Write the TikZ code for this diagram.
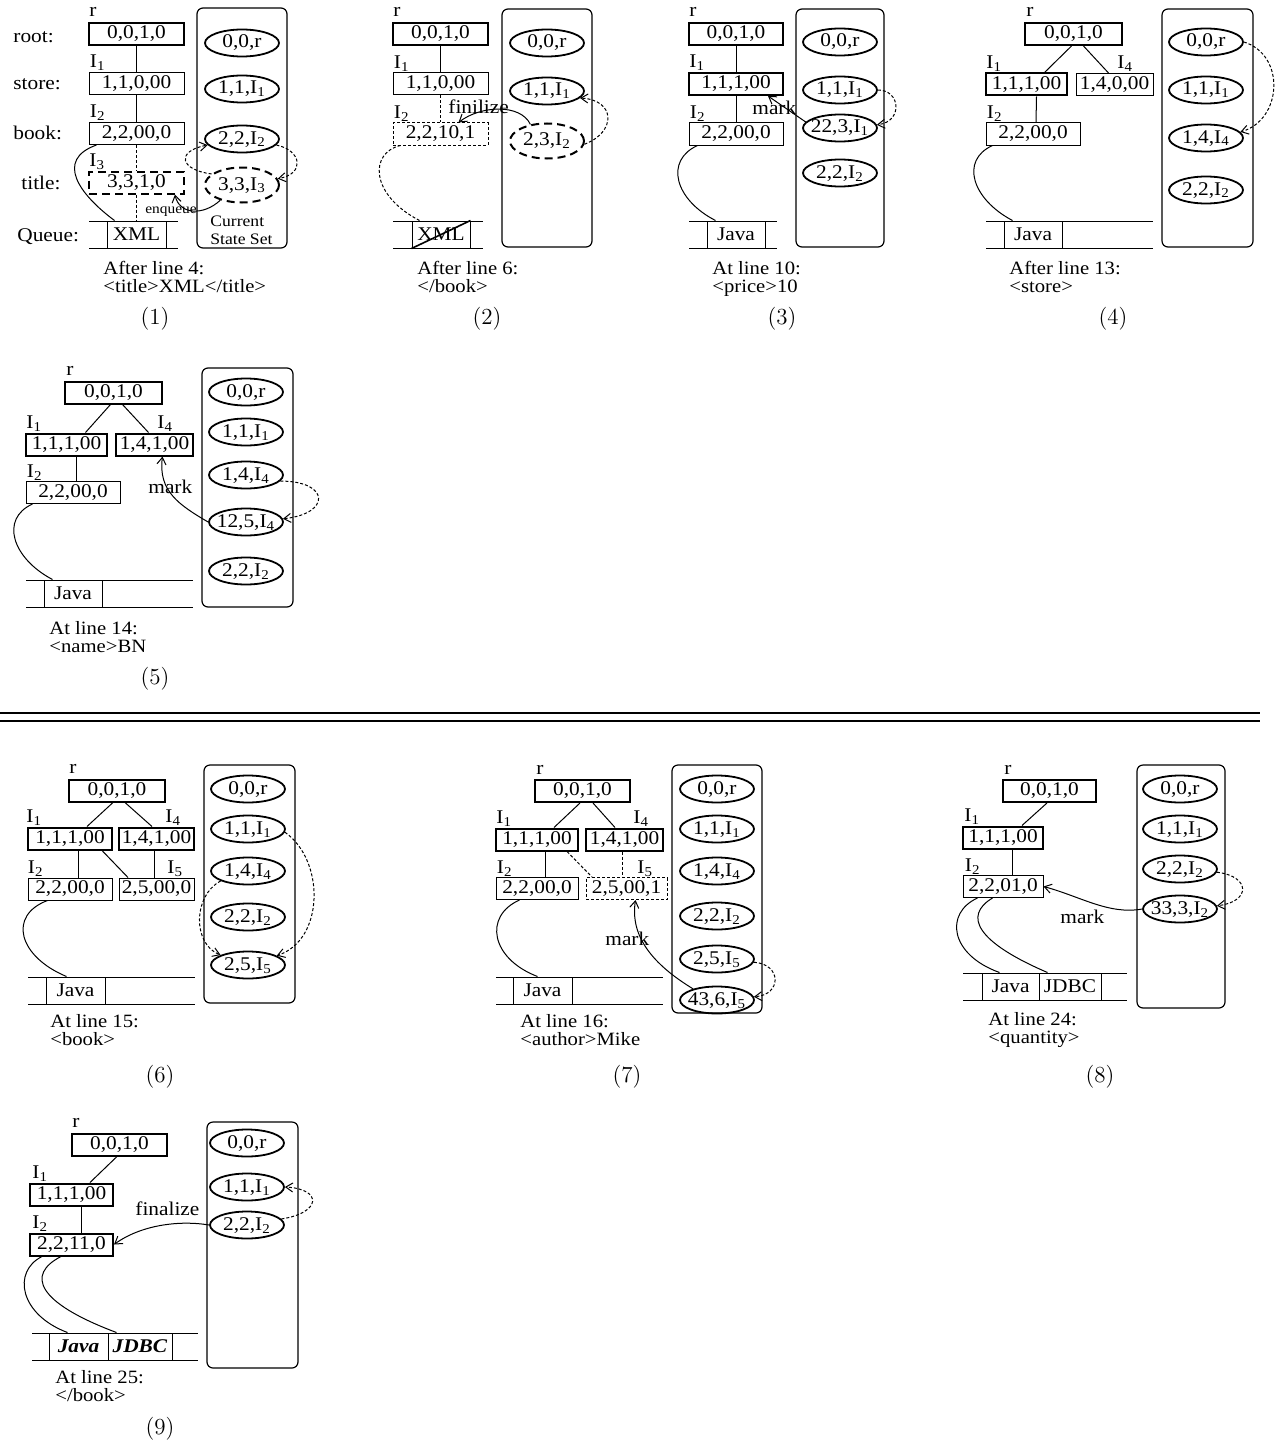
\documentclass[tikz,border=0pt]{standalone}
\usepackage{fontspec}
\newfontfamily\tnr{Liberation Serif}[FakeStretch=1.1]
\usetikzlibrary{arrows.meta, shapes.geometric}
\tikzset{
  tbox/.style={draw, line width=0.5pt, minimum height=11pt, inner sep=0pt},
  hbox/.style={tbox, line width=1pt},
  dbox/.style={tbox, dash pattern=on 1.5pt off 1pt},
  hdbox/.style={tbox, line width=1pt, dash pattern=on 4pt off 2.5pt},
  st/.style={draw, ellipse, line width=0.9pt, minimum width=37pt, minimum height=13.5pt, inner sep=0pt,
    text height=6.5pt, text depth=1.5pt,
    execute at begin node={\hbox to 0pt\bgroup\hss}, execute at end node={\hss\egroup}},
  dst/.style={st, minimum height=17.5pt, line width=1pt, dash pattern=on 4pt off 2.5pt},
  setbox/.style={draw, rounded corners=3pt, line width=0.6pt, inner sep=0pt},
  cell/.style={draw, line width=0.5pt, minimum height=13.5pt, inner sep=0pt},
  lbl/.style={anchor=base west},
  capt/.style={lbl, text height=6.8pt, text depth=0pt, font=\tnr\fontsize{9.4}{8}\selectfont},
  link/.style={line width=0.5pt},
  dlink/.style={link, dash pattern=on 1.5pt off 1pt},
  mv/.style={link, -{Straight Barb[length=3.5pt,width=4.5pt]}},
  dmv/.style={mv, dash pattern=on 1.5pt off 1pt},
  qline/.style={line width=0.5pt},
  small/.style={font=\tnr\fontsize{7}{8}\selectfont},
  num/.style={font=\fontsize{11.5}{13}\selectfont}
}
\begin{document}
\begin{tikzpicture}[x=0.5pt, y=-0.5pt, every node/.style={inner sep=0pt, font=\tnr\fontsize{9.7}{8}\selectfont}]
\useasboundingbox (0,0) rectangle (1280,1445);

\node[lbl] (troot) at (13,43) {root:};
\node[lbl] (tstore) at (13,90) {store:};
\node[lbl] (tbook) at (13,140) {book:};
\node[lbl] (ttitle) at (21,189) {title:};
\node[lbl] (tqueue) at (17,241) {Queue:};
\node[hbox, minimum width=47.5pt] (r1) at (136.5,34) {0,0,1,0};
\node[tbox, minimum width=47.5pt] (a1) at (136.5,83.5) {1,1,0,00};
\node[tbox, minimum width=47.5pt] (b1) at (136.5,133.5) {2,2,00,0};
\node[hdbox, minimum width=47.5pt] (c1) at (136.5,182.5) {3,3,1,0};
\node[lbl] (lr1) at ([shift={(1,-5)}]r1.north west) {r};
\node[lbl] (la1) at ([shift={(1,-4)}]a1.north west) {I\textsubscript{1}};
\node[lbl] (lb1) at ([shift={(1,-4)}]b1.north west) {I\textsubscript{2}};
\node[lbl] (lc1) at ([shift={(1,-4)}]c1.north west) {I\textsubscript{3}};
\draw[qline] (89,221) -- (178,221) (89,248) -- (178,248);
\node[cell, minimum width=29.5pt] (q1) at (136.5,234.5) {XML};
\draw[link] (r1) -- (a1);
\draw[link] (a1) -- (b1);
\draw[dlink] (b1) -- (c1);
\draw[dlink] (c1) -- (q1);
\draw[link] ([shift={(8,0)}]b1.south west) .. controls +(-42,15) and +(-35,-26) .. ([shift={(8,0)}]q1.north west);
\node[setbox, minimum width=45pt, minimum height=120pt] (set1) at (242,128) {};
\node[st] (s10) at (242,43) {0,0,r};
\node[st] (s11) at (242,89) {1,1,I\textsubscript{1}};
\node[st] (s12) at (242,139) {2,2,I\textsubscript{2}};
\node[dst] (s13) at (242,185) {3,3,I\textsubscript{3}};
\draw[dmv] (s12.-10) .. controls +(25,5) and +(28,-5) .. (s13.10);
\draw[dmv] (s13.160) .. controls +(-32,-4) and +(-32,6) .. (s12.190);
\draw[mv] (s13.215) .. controls +(-17,16) and +(4,20) .. ([shift={(-10,0)}]c1.south east);
\node[small] (tenq1) at (171,212) {enqueue};
\node[anchor=north west, align=left, font=\tnr\fontsize{8}{9}\selectfont] (tcss1) at (210,216) {Current\\State Set};
\node[capt] (n1) at (103,274) {After line 4:};
\node[capt] (m1) at (103,292) {<title>XML</title>};
\node[num] (k1) at (155,319) {(1)};

\node[hbox, minimum width=47.5pt] (r2) at (440.5,34) {0,0,1,0};
\node[tbox, minimum width=47.5pt] (a2) at (440.5,84) {1,1,0,00};
\node[dbox, minimum width=47.5pt] (b2) at (440.5,134) {2,2,10,1};
\node[lbl] (lr2) at ([shift={(1,-5)}]r2.north west) {r};
\node[lbl] (la2) at ([shift={(1,-4)}]a2.north west) {I\textsubscript{1}};
\node[lbl] (lb2) at ([shift={(1,-4)}]b2.north west) {I\textsubscript{2}};
\draw[qline] (393,221) -- (483,221) (393,248) -- (483,248);
\node[cell, minimum width=29pt] (q2) at (441,234.5) {XML};
\draw[line width=0.8pt] (q2.south west) -- (q2.north east);
\draw[link] (r2) -- (a2);
\draw[dlink] (a2) -- (b2);
\draw[dlink] ([shift={(8,0)}]b2.south west) .. controls +(-31,7) and +(-50,-26) .. ([shift={(8,0)}]q2.north west);
\node[setbox, minimum width=45pt, minimum height=119pt] (set2) at (547,128) {};
\node[st] (s20) at (547,43) {0,0,r};
\node[st] (s21) at (547,91) {1,1,I\textsubscript{1}};
\node[dst] (s22) at (547,141) {2,3,I\textsubscript{2}};
\draw[mv] (s22.135) .. controls +(-10,-21) and +(22,-17) .. ([shift={(18,0)}]b2.north);
\node[lbl] (tfin2) at (448,113) {finilize};
\draw[dmv] (s22.-5) .. controls +(32,-12) and +(36,2) .. (s21.-12);
\node[capt] (n2) at (417,274) {After line 6:};
\node[capt] (m2) at (417,292) {</book>};
\node[num] (k2) at (487,319) {(2)};

\node[hbox, minimum width=47pt] (r3) at (736,34) {0,0,1,0};
\node[hbox, minimum width=47pt] (a3) at (736,84) {1,1,1,00};
\node[tbox, minimum width=47pt] (b3) at (736,134) {2,2,00,0};
\node[lbl] (lr3) at ([shift={(1,-5)}]r3.north west) {r};
\node[lbl] (la3) at ([shift={(1,-4)}]a3.north west) {I\textsubscript{1}};
\node[lbl] (lb3) at ([shift={(1,-4)}]b3.north west) {I\textsubscript{2}};
\draw[qline] (689,221) -- (777,221) (689,248) -- (777,248);
\node[cell, minimum width=29pt] (q3) at (736,234.5) {Java};
\draw[link] (r3) -- (a3);
\draw[link] (a3) -- (b3);
\draw[link] ([shift={(9,0)}]b3.south west) .. controls +(-33,15) and +(-41,-21) .. ([shift={(9,0)}]q3.north west);
\node[setbox, minimum width=44pt, minimum height=119pt] (set3) at (840,128) {};
\node[st] (s30) at (840,42) {0,0,r};
\node[st] (s31) at (840,90) {1,1,I\textsubscript{1}};
\node[st] (s32) at (840,128) {22,3,I\textsubscript{1}};
\node[st] (s33) at (840,173) {2,2,I\textsubscript{2}};
\draw[mv] (s32.170) -- ([shift={(-16,0)}]a3.south east);
\node[lbl] (tmk3) at (752,115) {mark};
\draw[dmv] (s31.0) .. controls +(23,0) and +(26,-3) .. (s32.5);
\node[capt] (n3) at (712,274) {At line 10:};
\node[capt] (m3) at (712,292) {<price>10};
\node[num] (k3) at (782,319) {(3)};

\node[hbox, minimum width=48.5pt] (r4) at (1073.5,34) {0,0,1,0};
\node[hbox, minimum width=40.5pt] (a4) at (1026.5,84.5) {1,1,1,00};
\node[tbox, minimum width=38.5pt] (d4) at (1114.5,84.5) {1,4,0,00};
\node[tbox, minimum width=47pt] (b4) at (1033,134) {2,2,00,0};
\node[lbl] (lr4) at ([shift={(2,-5)}]r4.north west) {r};
\node[lbl] (la4) at ([shift={(1,-4)}]a4.north west) {I\textsubscript{1}};
\node[lbl] (ld4) at ([shift={(2.5,-4)}]d4.north) {I\textsubscript{4}};
\node[lbl] (lb4) at ([shift={(1,-4)}]b4.north west) {I\textsubscript{2}};
\draw[link] ([shift={(-2,0)}]r4.south) -- ([shift={(18,0)}]a4.north);
\draw[link] ([shift={(10,0)}]r4.south) -- ([shift={(-6,0)}]d4.north);
\draw[link] ([shift={(10,0)}]a4.south) -- ([shift={(3,0)}]b4.north);
\draw[qline] (986,221) -- (1153,221) (986,248) -- (1153,248);
\node[cell, minimum width=29pt] (q4) at (1033,234.5) {Java};
\draw[link] ([shift={(7,0)}]b4.south west) .. controls +(-33,15) and +(-40,-21) .. ([shift={(9,0)}]q4.north west);
\node[setbox, minimum width=45.5pt, minimum height=119pt] (set4) at (1207.5,128) {};
\node[st] (s40) at (1206,42) {0,0,r};
\node[st] (s41) at (1206,90) {1,1,I\textsubscript{1}};
\node[st] (s42) at (1206,138) {1,4,I\textsubscript{4}};
\node[st] (s43) at (1206,190) {2,2,I\textsubscript{2}};
\draw[dmv] (s40.0) .. controls +(42,13) and +(42,-12) .. (s42.10);
\node[capt] (n4) at (1009,274) {After line 13:};
\node[capt] (m4) at (1009,292) {<store>};
\node[num] (k4) at (1113,319) {(4)};

\node[hbox, minimum width=48.5pt] (r5) at (113.5,392.5) {0,0,1,0};
\node[hbox, minimum width=40.5pt] (a5) at (66.5,444.5) {1,1,1,00};
\node[hbox, minimum width=38.5pt] (d5) at (154.5,444.5) {1,4,1,00};
\node[tbox, minimum width=47pt] (b5) at (73,492.5) {2,2,00,0};
\node[lbl] (lr5) at ([shift={(2,-5)}]r5.north west) {r};
\node[lbl] (la5) at ([shift={(1,-4)}]a5.north west) {I\textsubscript{1}};
\node[lbl] (ld5) at ([shift={(2.5,-4)}]d5.north) {I\textsubscript{4}};
\node[lbl] (lb5) at ([shift={(1,-4)}]b5.north west) {I\textsubscript{2}};
\draw[link] ([shift={(-3,0)}]r5.south) -- ([shift={(19,0)}]a5.north);
\draw[link] ([shift={(9,0)}]r5.south) -- ([shift={(-6,0)}]d5.north);
\draw[link] ([shift={(9.5,0)}]a5.south) -- ([shift={(3,0)}]b5.north);
\draw[qline] (26,580) -- (193,580) (26,607) -- (193,607);
\node[cell, minimum width=29pt] (q5) at (73,593.5) {Java};
\draw[link] ([shift={(7,0)}]b5.south west) .. controls +(-33,15) and +(-40,-21) .. ([shift={(9,0)}]q5.north west);
\node[setbox, minimum width=45.5pt, minimum height=119.5pt] (set5) at (247.5,487.5) {};
\node[st] (s50) at (246,392) {0,0,r};
\node[st] (s51) at (246,432) {1,1,I\textsubscript{1}};
\node[st] (s52) at (246,475) {1,4,I\textsubscript{4}};
\node[st] (s53) at (246,522) {12,5,I\textsubscript{4}};
\node[st] (s54) at (246,571) {2,2,I\textsubscript{2}};
\draw[mv] (s53.west) .. controls +(-29,-17) and +(-4.5,34.5) .. ([shift={(8,0)}]d5.south);
\node[lbl] (tmk5) at (148,493) {mark};
\draw[dmv] (s52.-10) .. controls +(50,0) and +(48,-5) .. (s53.5);
\node[capt] (n5) at (49,634) {At line 14:};
\node[capt] (m5) at (49,652) {<name>BN};
\node[num] (k5) at (155,679) {(5)};

\draw[line width=1pt] (0,713) -- (1260,713) (0,721) -- (1260,721);

\node[hbox, minimum width=48pt] (r6) at (117,790.5) {0,0,1,0};
\node[hbox, minimum width=42pt] (a6) at (70,838.5) {1,1,1,00};
\node[hbox, minimum width=37.5pt] (d6) at (156.5,838.5) {1,4,1,00};
\node[tbox, minimum width=42pt] (b6) at (70,889) {2,2,00,0};
\node[tbox, minimum width=37.5pt] (e6) at (156.5,889) {2,5,00,0};
\node[lbl] (lr6) at ([shift={(1,-5)}]r6.north west) {r};
\node[lbl] (la6) at ([shift={(-1,-4)}]a6.north west) {I\textsubscript{1}};
\node[lbl] (ld6) at ([shift={(8.5,-4)}]d6.north) {I\textsubscript{4}};
\node[lbl] (lb6) at ([shift={(0,-4)}]b6.north west) {I\textsubscript{2}};
\node[lbl] (le6) at ([shift={(10.5,-4)}]e6.north) {I\textsubscript{5}};
\draw[link] ([shift={(-4,0)}]r6.south) -- ([shift={(17,0)}]a6.north);
\draw[link] ([shift={(8,0)}]r6.south) -- ([shift={(-4.5,0)}]d6.north);
\draw[link] ([shift={(8,0)}]a6.south) -- ([shift={(8,0)}]b6.north);
\draw[link] ([shift={(32,0)}]a6.south) -- ([shift={(-28.5,0)}]e6.north);
\draw[link] ([shift={(-2.5,0)}]d6.south) -- ([shift={(-2.5,0)}]e6.north);
\draw[qline] (28,977) -- (195,977) (28,1004) -- (195,1004);
\node[cell, minimum width=29.5pt] (q6) at (75.5,990.5) {Java};
\draw[link] ([shift={(20,0)}]b6.south west) .. controls +(-40,15) and +(-48,-20) .. ([shift={(21,0)}]q6.north west);
\node[setbox, minimum width=45.5pt, minimum height=119pt] (set6) at (249.5,884) {};
\node[st] (s60) at (248,789) {0,0,r};
\node[st] (s61) at (248,829) {1,1,I\textsubscript{1}};
\node[st] (s62) at (248,871) {1,4,I\textsubscript{4}};
\node[st] (s63) at (248,917) {2,2,I\textsubscript{2}};
\node[st] (s64) at (248,965) {2,5,I\textsubscript{5}};
\draw[dmv] (s61.-5) .. controls +(40,28) and +(48,-16) .. (s64.18);
\draw[dmv] (s62.200) .. controls +(-28,15) and +(-28,-11) .. (s64.160);
\node[capt] (n6) at (50,1027) {At line 15:};
\node[capt] (m6) at (50,1045) {<book>};
\node[num] (k6) at (160,1077) {(6)};

\node[hbox, minimum width=47.5pt] (r7) at (582.5,791) {0,0,1,0};
\node[hbox, minimum width=41pt] (a7) at (537,839.5) {1,1,1,00};
\node[hbox, minimum width=38.5pt] (d7) at (624.5,839.5) {1,4,1,00};
\node[tbox, minimum width=41pt] (b7) at (537,888.5) {2,2,00,0};
\node[dbox, minimum width=40.5pt] (e7) at (626.5,888.5) {2,5,00,1};
\node[lbl] (lr7) at ([shift={(2,-5)}]r7.north west) {r};
\node[lbl] (la7) at ([shift={(1,-4)}]a7.north west) {I\textsubscript{1}};
\node[lbl] (ld7) at ([shift={(8.5,-4)}]d7.north) {I\textsubscript{4}};
\node[lbl] (lb7) at ([shift={(1,-4)}]b7.north west) {I\textsubscript{2}};
\node[lbl] (le7) at ([shift={(10.5,-4)}]e7.north) {I\textsubscript{5}};
\draw[link] ([shift={(-2.5,0)}]r7.south) -- ([shift={(17,0)}]a7.north);
\draw[link] ([shift={(10.5,0)}]r7.south) -- ([shift={(-9.5,0)}]d7.north);
\draw[link] ([shift={(8,0)}]a7.south) -- ([shift={(8,0)}]b7.north);
\draw[dlink] ([shift={(30,0)}]a7.south) -- ([shift={(-34.5,0)}]e7.north);
\draw[dlink] ([shift={(-2.5,0)}]d7.south) -- ([shift={(-4.5,0)}]e7.north);
\draw[qline] (496,977) -- (663,977) (496,1004) -- (663,1004);
\node[cell, minimum width=29.5pt] (q7) at (542.5,990.5) {Java};
\draw[link] ([shift={(24,0)}]b7.south west) .. controls +(-36,16) and +(-47,-18) .. ([shift={(25,0)}]q7.north west);
\node[setbox, minimum width=45pt, minimum height=124pt] (set7) at (717,889) {};
\node[st] (s70) at (717,789) {0,0,r};
\node[st] (s71) at (717,829) {1,1,I\textsubscript{1}};
\node[st] (s72) at (717,871) {1,4,I\textsubscript{4}};
\node[st] (s73) at (717,916) {2,2,I\textsubscript{2}};
\node[st] (s74) at (717,959) {2,5,I\textsubscript{5}};
\node[st] (s75) at (717,1000) {43,6,I\textsubscript{5}};
\draw[mv] (s75.155) .. controls +(-41,-25) and +(-5.5,36) .. ([shift={(9,0)}]e7.south);
\node[lbl] (tmk7) at (605,945) {mark};
\draw[dmv] (s74.-5) .. controls +(28,2) and +(28,-2) .. (s75.5);
\node[capt] (n7) at (520,1027) {At line 16:};
\node[capt] (m7) at (520,1045) {<author>Mike};
\node[num] (k7) at (627,1077) {(7)};

\node[hbox, minimum width=46.5pt] (r8) at (1049.5,791) {0,0,1,0};
\node[hbox, minimum width=40pt] (a8) at (1003,837.5) {1,1,1,00};
\node[tbox, minimum width=40pt] (b8) at (1003,886.5) {2,2,01,0};
\node[lbl] (lr8) at ([shift={(2,-5)}]r8.north west) {r};
\node[lbl] (la8) at ([shift={(2,-4)}]a8.north west) {I\textsubscript{1}};
\node[lbl] (lb8) at ([shift={(2,-4)}]b8.north west) {I\textsubscript{2}};
\draw[link] ([shift={(-2.5,0)}]r8.south) -- ([shift={(19,0)}]a8.north);
\draw[link] ([shift={(9,0)}]a8.south) -- ([shift={(9,0)}]b8.north);
\draw[qline] (963,973) -- (1127,973) (963,1000) -- (1127,1000);
\node[cell, minimum width=28.5pt] (qj8) at (1010.5,986.5) {Java};
\node[cell, minimum width=31pt] (qd8) at (1070,986.5) {JDBC};
\draw[link] ([shift={(15,0)}]b8.south west) .. controls +(-33,15) and +(-50,-18) .. ([shift={(18,0)}]qj8.north west);
\draw[link] ([shift={(30,0)}]b8.south west) .. controls +(-30,18) and +(-70,-30) .. ([shift={(9,0)}]qd8.north west);
\node[setbox, minimum width=44pt, minimum height=121.5pt] (set8) at (1181,886.5) {};
\node[st] (s80) at (1180,789) {0,0,r};
\node[st] (s81) at (1180,829) {1,1,I\textsubscript{1}};
\node[st] (s82) at (1180,869) {2,2,I\textsubscript{2}};
\node[st] (s83) at (1180,909) {33,3,I\textsubscript{2}};
\draw[mv] (s83.west) .. controls +(-33,6) and +(37,10) .. (b8.east);
\node[lbl] (tmk8) at (1060,923) {mark};
\draw[dmv] (s82.-5) .. controls +(34,4) and +(34,-4) .. (s83.5);
\node[capt] (n8) at (988,1025) {At line 24:};
\node[capt] (m8) at (988,1043) {<quantity>};
\node[num] (k8) at (1100,1077) {(8)};

\node[hbox, minimum width=47.5pt] (r9) at (119.5,1144.5) {0,0,1,0};
\node[hbox, minimum width=41.5pt] (a9) at (71.5,1194.5) {1,1,1,00};
\node[hbox, minimum width=41.5pt] (b9) at (71.5,1244.5) {2,2,11,0};
\node[lbl] (lr9) at ([shift={(1,-5)}]r9.north west) {r};
\node[lbl] (la9) at ([shift={(3,-4)}]a9.north west) {I\textsubscript{1}};
\node[lbl] (lb9) at ([shift={(3,-4)}]b9.north west) {I\textsubscript{2}};
\draw[link] ([shift={(-2.5,0)}]r9.south) -- ([shift={(18.5,0)}]a9.north);
\draw[link] ([shift={(9.5,0)}]a9.south) -- ([shift={(9.5,0)}]b9.north);
\draw[qline] (32,1333) -- (198,1333) (32,1360) -- (198,1360);
\node[cell, minimum width=29.5pt] (qj9) at (78.5,1346.5) {\textbf{\textit{Java}}};
\node[cell, minimum width=32pt] (qd9) at (140,1346.5) {\textbf{\textit{JDBC}}};
\draw[link] ([shift={(13,0)}]b9.south west) .. controls +(-30,15) and +(-48,-18) .. ([shift={(19,0)}]qj9.north west);
\draw[link] ([shift={(32,0)}]b9.south west) .. controls +(-35,18) and +(-80,-30) .. ([shift={(9,0)}]qd9.north west);
\node[setbox, minimum width=45.5pt, minimum height=123pt] (set9) at (252.5,1245) {};
\node[st] (s90) at (247,1143) {0,0,r};
\node[st] (s91) at (247,1187) {1,1,I\textsubscript{1}};
\node[st] (s92) at (247,1225) {2,2,I\textsubscript{2}};
\draw[mv] (s92.west) .. controls +(-30,-5) and +(27,-19.5) .. (b9.east);
\node[lbl] (tfin9) at (135,1215) {finalize};
\draw[dmv] (s92.10) .. controls +(40,-6) and +(38,2) .. (s91.0);
\node[capt] (n9) at (55,1383) {At line 25:};
\node[capt] (m9) at (55,1401) {</book>};
\node[num] (k9) at (160,1429) {(9)};
\end{tikzpicture}
\end{document}
